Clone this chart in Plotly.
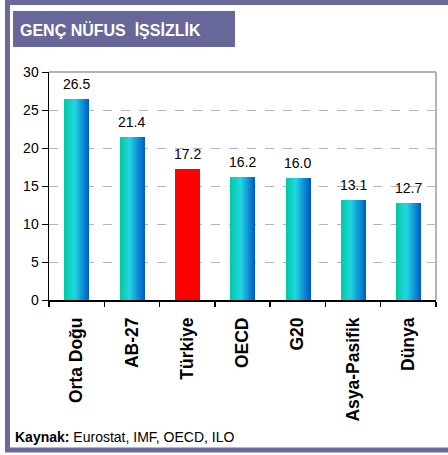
import plotly.graph_objects as go

categories = ["Orta Doğu", "AB-27", "Türkiye", "OECD", "G20", "Asya-Pasifik", "Dünya"]
values = [26.5, 21.4, 17.2, 16.2, 16.0, 13.1, 12.7]
value_labels = ["26.5", "21.4", "17.2", "16.2", "16.0", "13.1", "12.7"]
highlight = "Türkiye"
y_ticks = [0, 5, 10, 15, 20, 25, 30]

W, H = 448, 455
L, R, T, B = 49, 436, 72, 300


def px(x):
    return (x - L) / (R - L)


def py(y):
    return (B - y) / (B - T)


def hex2rgb(h):
    h = h.lstrip("#")
    return tuple(int(h[i:i + 2], 16) for i in (0, 2, 4))


stops = [(0.0, "#00c9a2"), (0.4, "#22d6e2"), (1.0, "#0058c8")]


def grad(t):
    for (t0, c0), (t1, c1) in zip(stops[:-1], stops[1:]):
        if t <= t1:
            a, b = hex2rgb(c0), hex2rgb(c1)
            f = (t - t0) / (t1 - t0)
            return "rgb(%d,%d,%d)" % tuple(round(a[i] + (b[i] - a[i]) * f) for i in range(3))
    return stops[-1][1]


fig = go.Figure()
bar_w = 0.45
N = 24
sw = bar_w / N
for i in range(N):
    c = grad((i + 0.5) / N)
    colors = ["#ff0000" if cat == highlight else c for cat in categories]
    fig.add_trace(go.Bar(
        x=categories, y=values, width=sw * 1.08, offset=-bar_w / 2 + i * sw + 0.005,
        marker=dict(color=colors, line=dict(width=0)), showlegend=False, hoverinfo="skip",
    ))

for cat, v, lab in zip(categories, values, value_labels):
    fig.add_annotation(x=cat, y=v, text=lab, showarrow=False, yanchor="bottom", yshift=5,
                       font=dict(family="Liberation Sans, Arial", size=14, color="#000"))

shapes = [
    # outer frame
    dict(type="rect", xref="paper", yref="paper", x0=px(7.5), x1=px(470), y0=py(2.5), y1=py(450),
         line=dict(color="#6b6b9b", width=5), layer="below"),
    # title box
    dict(type="rect", xref="paper", yref="paper", x0=px(13), x1=px(235), y0=py(11), y1=py(47),
         fillcolor="#67679a", line=dict(width=0), layer="below"),
    # top and right plot border
    dict(type="line", xref="paper", yref="paper", x0=0, x1=1, y0=1, y1=1,
         line=dict(color="#9a9a9a", width=1.5), layer="below"),
    dict(type="line", xref="paper", yref="paper", x0=1, x1=1, y0=0, y1=1,
         line=dict(color="#9a9a9a", width=1.5), layer="below"),
]

annotations_extra = [
    dict(xref="paper", yref="paper", x=px(18), y=py(29.5), xanchor="left", yanchor="middle",
         text="<b>GENÇ NÜFUS  İŞSİZLİK</b>", showarrow=False,
         font=dict(family="Liberation Sans, Arial", size=16, color="white")),
    dict(xref="paper", yref="paper", x=px(13), y=py(437), xanchor="left", yanchor="middle",
         text="<b>Kaynak:</b> Eurostat, IMF, OECD, ILO", showarrow=False,
         font=dict(family="Liberation Sans, Arial", size=14, color="#000")),
]
for a in annotations_extra:
    fig.add_annotation(**a)

fig.update_layout(
    width=W, height=H,
    margin=dict(l=L, r=W - R, t=T, b=H - B, pad=0),
    paper_bgcolor="white", plot_bgcolor="white",
    barmode="overlay", bargap=0,
    shapes=shapes,
    font=dict(family="Liberation Sans, Arial", color="#000"),
)
fig.update_xaxes(
    showline=True, linecolor="#000", linewidth=1.5,
    ticks="outside", tickson="boundaries", ticklen=5, tickcolor="#000", tickwidth=1.5,
    tickangle=-90, tickfont=dict(size=17.5, family="Liberation Sans, Arial", color="#000"),
    ticktext=["<b>%s</b>" % c for c in categories], tickvals=categories,
    ticklabelstandoff=9,
    showgrid=False, fixedrange=True, automargin=False,
)
fig.update_yaxes(
    range=[0, 30], tickvals=y_ticks, showline=True, linecolor="#000", linewidth=1.5,
    ticks="outside", ticklen=6, tickcolor="#000", tickwidth=1,
    tickfont=dict(size=14, family="Liberation Sans, Arial", color="#000"),
    showgrid=True, gridcolor="#b4b4b4", griddash="dash", gridwidth=1,
    zeroline=False, fixedrange=True, automargin=False,
)

fig.write_html("out.html", config={"displayModeBar": False, "staticPlot": True},
               post_script="document.body.style.margin='0';document.body.style.overflow='hidden';")
